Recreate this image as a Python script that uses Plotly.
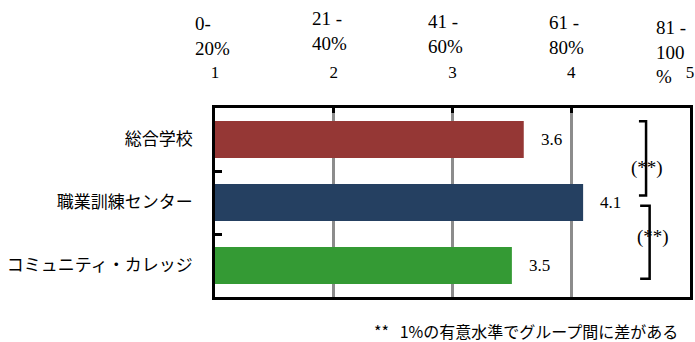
import plotly.graph_objects as go

# Average rating per institution type (1-5 scale)
categories = ["総合学校", "職業訓練センター", "コミュニティ・カレッジ"]
scores = [3.6, 4.1, 3.5]
bar_colors = ["#953735", "#254061", "#349a34"]

# Scale ticks and their percentage-band captions
tick_vals = [1, 2, 3, 4, 5]
tick_text = ["1", "2", "3", "4", "5"]
band_text = ["0-<br>20%", "21 -<br>40%", "41 -<br>60%", "61 -<br>80%", "81 -<br>100<br>%"]
band_shift = [-22, -24, -27, -24, -36]
band_yshift = [72, 77, 74, 73, 56]

# Significance markers between adjacent groups
sig_text = ["(**)", "(**)"]
footnote = "**   1%の有意水準でグループ間に差がある"

SERIF = "Liberation Serif, Noto Sans CJK JP, serif"
JP = "Noto Sans CJK JP, Liberation Serif, sans-serif"

fig = go.Figure()
fig.add_trace(go.Bar(
    x=scores, y=categories, orientation="h",
    marker=dict(color=bar_colors, line=dict(width=0)),
    width=0.59, showlegend=False, hoverinfo="skip",
))

# Value labels next to each bar
for cat, v in zip(categories, scores):
    fig.add_annotation(x=v, y=cat, xref="x", yref="y", text=f"{v:.1f}",
                       showarrow=False, xanchor="left", yanchor="middle", xshift=15,
                       font=dict(family=SERIF, size=17, color="black"))

# Percentage band captions above the scale numbers
for tv, txt, xs, ys in zip(tick_vals, band_text, band_shift, band_yshift):
    fig.add_annotation(x=tv, y=1, xref="x", yref="paper", text=txt, align="left",
                       showarrow=False, xanchor="left", yanchor="middle",
                       xshift=xs, yshift=ys,
                       font=dict(family=SERIF, size=19, color="black"))

# Brackets marking significant differences
brackets = [
    dict(x=4.63, hook=4.57, y0=-0.29, y1=0.89, tx=4.64, ty=0.46),
    dict(x=4.66, hook=4.58, y0=1.05, y1=2.21, tx=4.69, ty=1.54),
]
for b, st in zip(brackets, sig_text):
    path = (f"M {b['hook']},{b['y0']} L {b['x']},{b['y0']} "
            f"L {b['x']},{b['y1']} L {b['hook']},{b['y1']}")
    fig.add_shape(type="path", path=path, xref="x", yref="y",
                  line=dict(color="black", width=2.5))
    fig.add_annotation(x=b["tx"], y=b["ty"], xref="x", yref="y", text=st,
                       showarrow=False, xanchor="center", yanchor="middle",
                       font=dict(family=SERIF, size=19, color="black"))

fig.add_annotation(x=1, y=0, xref="paper", yref="paper", text=footnote,
                   showarrow=False, xanchor="right", yanchor="middle",
                   xshift=-11, yshift=-34, borderpad=0,
                   font=dict(family=JP, size=16, color="black"))

fig.update_layout(
    width=695, height=342,
    margin=dict(l=215, r=1, t=108, b=45),
    paper_bgcolor="white", plot_bgcolor="white",
    bargap=0.41,
    xaxis=dict(
        range=[1, 5], side="top", tickvals=tick_vals, ticktext=tick_text,
        showgrid=True, gridcolor="#8c8c8c", gridwidth=2.5,
        showline=True, linecolor="black", linewidth=2.5, mirror=True,
        ticks="inside", ticklen=5, tickwidth=2.5, tickcolor="black",
        ticklabelstandoff=20, ticklabeloverflow="allow",
        tickfont=dict(family=SERIF, size=17, color="black"),
        zeroline=False, fixedrange=True,
    ),
    yaxis=dict(
        categoryorder="array", categoryarray=categories, autorange="reversed",
        showgrid=False, showline=True, linecolor="black", linewidth=2.5, mirror=True,
        ticks="inside", tickson="boundaries", ticklen=7, tickwidth=2.5, tickcolor="black",
        ticklabelstandoff=16,
        tickfont=dict(family=JP, size=17, color="black"),
        fixedrange=True,
    ),
)

fig.write_html("out.html")
